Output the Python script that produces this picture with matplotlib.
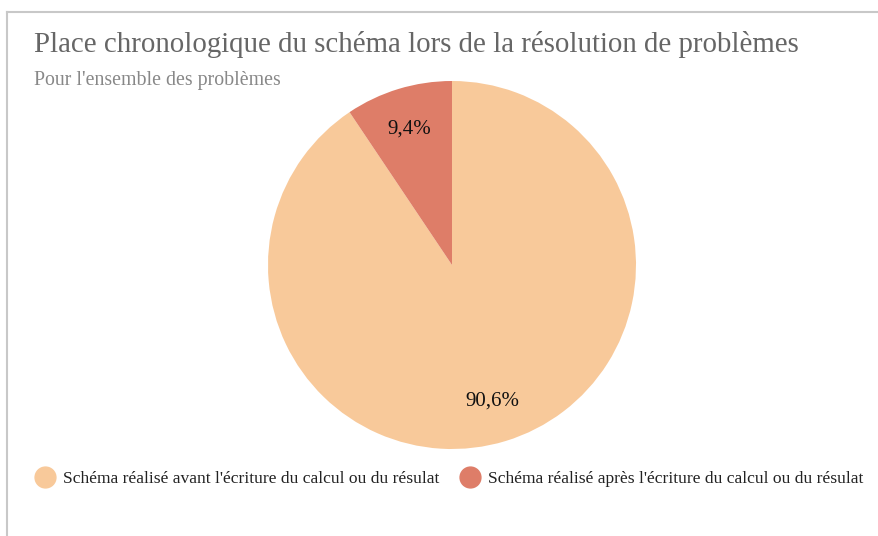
import matplotlib
matplotlib.use("Agg")
import matplotlib.pyplot as plt
from matplotlib.lines import Line2D

plt.rcParams['font.family'] = ['Liberation Serif', 'DejaVu Serif']

title = "Place chronologique du schéma lors de la résolution de problèmes"
subtitle = "Pour l'ensemble des problèmes"
categories = ["Schéma réalisé avant l'écriture du calcul ou du résulat",
              "Schéma réalisé après l'écriture du calcul ou du résulat"]
values = [90.6, 9.4]
colors = ["#F8C99A", "#DE7D68"]

W, H = 879, 536
fig = plt.figure(figsize=(W / 100, H / 100), dpi=100)
fig.patch.set_facecolor("white")

# frame lines (top and left)
fig.add_artist(Line2D([7 / W, 1], [1 - 12 / H, 1 - 12 / H], color="#c8c8c8", lw=1.5))
fig.add_artist(Line2D([7 / W, 7 / W], [0, 1 - 12 / H], color="#c8c8c8", lw=1.5))

fig.text(34 / W, 1 - 45 / H, title, fontsize=20.8, color="#666666", va="center", ha="left")
fig.text(34 / W, 1 - 81 / H, subtitle, fontsize=14.3, color="#888888", va="center", ha="left")

cx, cy, r = 452, 265, 184
ax = fig.add_axes([(cx - r) / W, 1 - (cy + r) / H, 2 * r / W, 2 * r / H])
wedges, _ = ax.pie(values, colors=colors, startangle=90, counterclock=False,
                   wedgeprops=dict(linewidth=0))
ax.set_aspect("equal")
ax.set_xlim(-1, 1)
ax.set_ylim(-1, 1)

# value labels placed in data space relative to the pie
label_pos = [(0.22, -0.74), (-0.23, 0.74)]
for v, (x, y) in zip(values, label_pos):
    ax.text(x, y, f"{v:.1f}%".replace(".", ","), ha="center", va="center",
            fontsize=15, color="#111111")

handles = [Line2D([], [], marker="o", linestyle="", markersize=15,
                  markerfacecolor=c, markeredgecolor=c) for c in colors]
leg = fig.legend(handles, categories, loc="center", bbox_to_anchor=(449 / W, 1 - 479 / H),
                 ncol=2, frameon=False, fontsize=12.6, handletextpad=0.4,
                 columnspacing=1.2, handlelength=1.2)
for t in leg.get_texts():
    t.set_color("#222222")

fig.savefig("out.png", dpi=100, facecolor="white")
